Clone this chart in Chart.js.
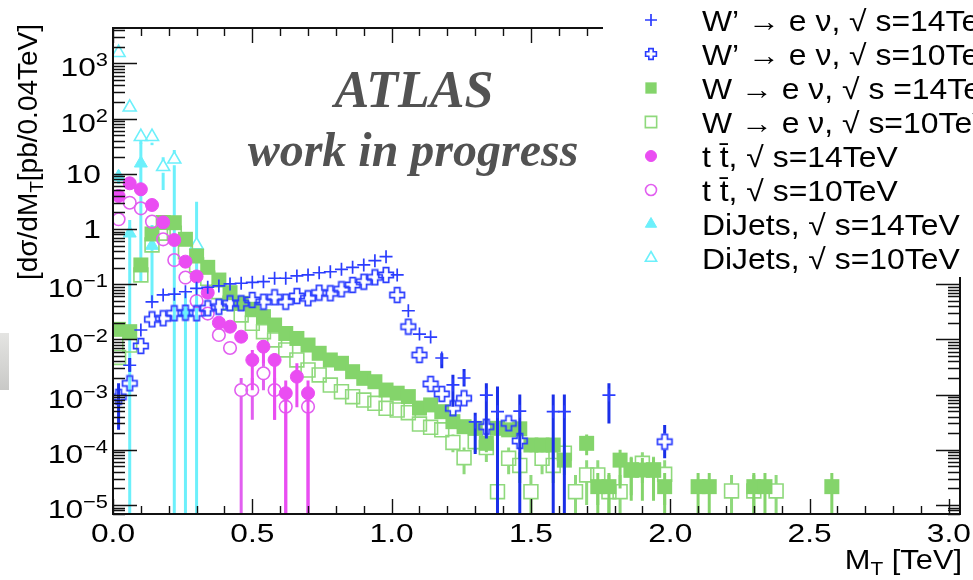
<!DOCTYPE html>
<html>
<head>
<meta charset="utf-8">
<script src="https://cdn.jsdelivr.net/npm/chart.js@4.4.0/dist/chart.umd.min.js"></script>
<style>
html, body { margin: 0; padding: 0; background: #fff; }
#wrap { width: 973px; height: 580px; position: relative; }
</style>
</head>
<body>
<div id="wrap"><canvas id="mtChart"></canvas></div>
<script>
// bin centres (0.04 TeV bins)
const binCenters = [0.02, 0.06, 0.10, 0.14, 0.18, 0.22, 0.26, 0.30, 0.34, 0.38, 0.42, 0.46, 0.50, 0.54, 0.58, 0.62,
  0.66, 0.70, 0.74, 0.78, 0.82, 0.86, 0.90, 0.94, 0.98, 1.02, 1.06, 1.10, 1.14, 1.18, 1.22, 1.26, 1.30, 1.34,
  1.38, 1.42, 1.46, 1.50, 1.54, 1.58, 1.62, 1.66, 1.70, 1.74, 1.78, 1.82, 1.86, 1.90, 1.94, 1.98, 2.02, 2.06,
  2.10, 2.14, 2.18, 2.22, 2.26, 2.30, 2.34, 2.38, 2.42, 2.46, 2.50, 2.54, 2.58];

// W' -> e nu, 14 TeV
const wp14 = [7.9e-4, 3.4e-3, 0.0148, 0.048, 0.064, 0.066, 0.073, 0.084, 0.088, 0.093, 0.101, 0.104, 0.108, 0.111,
  0.128, 0.128, 0.141, 0.147, 0.161, 0.168, 0.186, 0.202, 0.223, 0.267, 0.315, 0.147, 0.033, 0.0125, 0.011,
  0.0046, 0.0015, 0.0020, 3.2e-4, 9.8e-4, 4.9e-4, null, 5.0e-4, null, null, 4.9e-4, 4.9e-4, null, null, null, 9.8e-4];
const wp14Err = {0: [2.3e-4, 1.6e-3], 1: [2.6e-3, 4.6e-3], 29: [3.0e-3, 5.6e-3], 30: [6e-4, 2.3e-3],
  31: [1.4e-3, 2.9e-3], 32: [8.4e-5, 4.7e-4], 33: [1.6e-4, 1.6e-3], 34: [0, 1.4e-3], 36: [0, 1e-3],
  39: [0, 1e-3], 40: [0, 1e-3], 44: [3e-4, 1.6e-3]};

// W' -> e nu, 10 TeV
const wp10 = [9.1e-4, 1.6e-3, 7.6e-3, 0.0231, 0.0241, 0.0297, 0.0305, 0.0297, 0.0366, 0.0391, 0.0451, 0.0451,
  0.0518, 0.0482, 0.0579, 0.0482, 0.0611, 0.0555, 0.0702, 0.0684, 0.0809, 0.0968, 0.111, 0.133, 0.147,
  0.0637, 0.0170, 0.00521, 0.00156, 0.00103, 5.65e-4, 8.57e-4, null, 2.62e-4, null, 3.02e-4, 1.45e-4,
  null, null, null, null, null, null, null, null, null, null, null, null, 1.4e-4];
const wp10Err = {49: [7e-5, 2.8e-4]};

// W -> e nu, 14 TeV
const w14 = [0.0152, 0.0138, 0.223, 0.812, 1.31, 1.30, 0.651, 0.324, 0.202, 0.119, 0.0702, 0.0451, 0.0351,
  0.0258, 0.0182, 0.0128, 0.0104, 7.9e-3, 5.6e-3, 4.24e-3, 3.69e-3, 2.6e-3, 1.97e-3, 1.71e-3, 1.21e-3,
  1.06e-3, 9.2e-4, 5.7e-4, 6.5e-4, 4.9e-4, 3.23e-4, 2.62e-4, 2.45e-4, 1.31e-4, 2.45e-4, 2.3e-4, 2.4e-4,
  1.22e-4, 1.22e-4, 1.22e-4, 6.5e-5, null, 1.31e-4, 2.15e-5, 2.15e-5, 6.5e-5, 4.3e-5, 4.3e-5, 4.3e-5,
  2.15e-5, null, null, 2.15e-5, 2.15e-5, null, null, null, 2.15e-5, 2.15e-5, null, null, null, null, null, 2.15e-5];
const w14Err = {33: [9e-5, 1.8e-4], 37: [9e-5, 1.6e-4], 38: [9e-5, 1.6e-4], 39: [9e-5, 1.6e-4],
  40: [3.5e-5, 1e-4], 42: [8e-5, 1.9e-4], 43: [0, 3.8e-5], 44: [0, 3.8e-5], 45: [2e-5, 1e-4],
  46: [1.2e-5, 7.1e-5], 47: [1.2e-5, 7.1e-5], 48: [1.2e-5, 7.1e-5], 49: [0, 3.8e-5], 52: [0, 3.8e-5],
  53: [0, 3.8e-5], 57: [0, 3.8e-5], 58: [0, 3.8e-5], 64: [0, 3.8e-5]};

// W -> e nu, 10 TeV
const w10 = [4.7e-3, 7.9e-3, 0.147, 0.513, 0.84, 0.836, 0.388, 0.223, 0.128, 0.0731, 0.0451, 0.0277, 0.0196,
  0.0138, 9.76e-3, 6.43e-3, 4.24e-3, 2.79e-3, 2.27e-3, 1.49e-3, 1.13e-3, 9.17e-4, 7.98e-4, 6.95e-4, 5.65e-4,
  5.26e-4, 4.7e-4, 2.93e-4, 2.56e-4, 2.3e-4, 1.36e-4, 7.2e-5, 1.4e-4, 1.1e-4, 1.74e-5, 7e-5, 5.2e-5, 1.74e-5,
  7e-5, 5.2e-5, 8.7e-5, 1.74e-5, 3.5e-5, 3.5e-5, 1.74e-5, 1.74e-5, 4.3e-5, 5.7e-5, 4.3e-5, 3.6e-5,
  null, null, null, null, null, 1.8e-5, null, 1.8e-5, null, 1.8e-5];
const w10Err = {30: [9e-5, 1.9e-4], 31: [3.6e-5, 1.1e-4], 32: [9e-5, 2e-4], 33: [6e-5, 1.7e-4], 34: [0, 3.5e-5],
  35: [3.6e-5, 1.1e-4], 36: [2.5e-5, 9e-5], 37: [0, 3.5e-5], 38: [3.6e-5, 1.1e-4], 39: [2.5e-5, 9e-5],
  40: [4.5e-5, 1.3e-4], 41: [0, 3.5e-5], 42: [1e-5, 6.5e-5], 43: [1e-5, 6.5e-5], 44: [0, 3.5e-5],
  45: [0, 3.5e-5], 46: [1.5e-5, 7.5e-5], 47: [2.5e-5, 9e-5], 48: [1.5e-5, 7.5e-5], 49: [1e-5, 6.5e-5],
  55: [0, 3.5e-5], 57: [0, 3.5e-5], 59: [0, 3.5e-5]};

// t tbar
const tt14 = [3.96, 6.73, 5.24, 2.72, 1.32, 0.632, 0.256, 0.138, 0.0702, 0.0201, 0.0170, 0.0112, 4.24e-3,
  7.38e-3, 4.24e-3, 1.06e-3, 2.11e-3, 1.06e-3];
const tt14Err = {12: [1.2e-3, 6.4e-3], 13: [3.7e-3, 9.8e-3], 14: [3.5e-4, 5.6e-3], 15: [0, 1.8e-3],
  16: [5.9e-4, 3.7e-3], 17: [0, 1.8e-3]};
const tt10 = [1.50, 2.99, 2.37, 1.36, 0.651, 0.274, 0.132, 0.0496, 0.0294, 0.0120, 6.99e-3, 1.21e-3, 1.21e-3,
  2.43e-3, 1.21e-3, 6.04e-4, null, 6.04e-4];
const tt10Err = {11: [0, 2e-3], 12: [3.5e-4, 2e-3], 13: [1.2e-3, 4.2e-3], 14: [3.5e-4, 2e-3],
  15: [0, 1.1e-3], 17: [0, 1.1e-3]};

// DiJets
const dj14 = [8.86, 0.836, 15.5, 0.5, null, null, 0.03];
const dj14Err = {0: [6.6, 11.5], 1: [0, 1.46], 2: [0.11, 41], 3: [0.05, 1.18], 6: [0, 0.07]};
const dj10 = [1563, 160, 47, 47, 13.4, 18.3, null, 0.513];
const dj10Err = {2: [35, 55], 3: [33, 55], 4: [5.1, 20], 5: [0, 27], 7: [0, 3.1]};

const xTickValues = [0, 0.5, 1.0, 1.5, 2.0, 2.5, 3.0];
const xTickLabels = ['0.0', '0.5', '1.0', '1.5', '2.0', '2.5', '3.0'];
const yTickExp = [3, 2, 1, 0, -1, -2, -3, -4, -5];
const yTickLabels = [['10', '3'], ['10', '2'], ['10', ''], ['1', ''], ['10', '\u22121'], ['10', '\u22122'],
  ['10', '\u22123'], ['10', '\u22124'], ['10', '\u22125']];
const legendLabels = [
  'W\u2019 \u2192 e \u03bd, \u221a s=14TeV',
  'W\u2019 \u2192 e \u03bd, \u221a s=10TeV',
  'W \u2192 e \u03bd, \u221a s =14TeV',
  'W \u2192 e \u03bd, \u221a s=10TeV',
  't t\u0304, \u221a s=14TeV',
  't t\u0304, \u221a s=10TeV',
  'DiJets, \u221a s=14TeV',
  'DiJets, \u221a s=10TeV'
];

const SANS = '"Liberation Sans", Arial, Helvetica, "DejaVu Sans", sans-serif';
const SERIF = '"Liberation Serif", "Times New Roman", serif';

function pts(vals) {
  const out = [];
  vals.forEach((v, i) => { if (v != null) out.push({x: binCenters[i], y: v, bin: i}); });
  return out;
}

// hollow "plus" marker used by ROOT (style 28)
function openCross(size, arm, color, lw) {
  const c = document.createElement('canvas');
  c.width = size; c.height = size;
  const g = c.getContext('2d');
  const h = size / 2, s = h - lw, a = arm;
  g.translate(h, h);
  g.beginPath();
  g.moveTo(-a, -s); g.lineTo(a, -s); g.lineTo(a, -a); g.lineTo(s, -a); g.lineTo(s, a); g.lineTo(a, a);
  g.lineTo(a, s); g.lineTo(-a, s); g.lineTo(-a, a); g.lineTo(-s, a); g.lineTo(-s, -a); g.lineTo(-a, -a);
  g.closePath();
  g.strokeStyle = color; g.lineWidth = lw; g.lineJoin = 'miter';
  g.stroke();
  return c;
}

const blue = '#2b3dff', blueBar = '#1a2fe8';
const green = '#84d46b', greenOpen = '#8fd97c';
const magenta = '#ea4df2', magentaOpen = '#e25ff0';
const cyan = '#6cf0fb';

function stretchText(ctx, text, x, y, align, sx) {
  ctx.save();
  ctx.translate(x, y);
  ctx.scale(sx, 1);
  ctx.textAlign = align;
  ctx.fillText(text, 0, 0);
  ctx.restore();
  return ctx.measureText(text).width * sx;
}

const errorBars = {
  id: 'errorBars',
  beforeDatasetDraw(chart, args) {
    const ds = chart.data.datasets[args.index];
    if (!ds.errors) return;
    const {ctx, chartArea: a, scales: {x, y}} = chart;
    ctx.save();
    ctx.beginPath();
    ctx.rect(a.left, a.top, a.right - a.left, a.bottom - a.top);
    ctx.clip();
    ctx.strokeStyle = ds.errColor;
    ctx.lineWidth = 3;
    ds.data.forEach(p => {
      const e = ds.errors[p.bin];
      if (!e) return;
      const px = x.getPixelForValue(p.x), py = y.getPixelForValue(p.y);
      const top = y.getPixelForValue(e[1]);
      const bot = e[0] > 0 ? y.getPixelForValue(e[0]) : a.bottom;
      const gap = ds.errGap || 0;
      ctx.beginPath();
      if (top < py - gap) { ctx.moveTo(px, top); ctx.lineTo(px, py - gap); }
      if (bot > py + gap) { ctx.moveTo(px, py + gap); ctx.lineTo(px, bot); }
      ctx.stroke();
    });
    ctx.restore();
  }
};

const rootFrame = {
  id: 'rootFrame',
  beforeDraw(chart) {
    const ctx = chart.ctx;
    ctx.save();
    const gr = ctx.createLinearGradient(0, 333, 0, 390);
    gr.addColorStop(0, '#e4e4e2');
    gr.addColorStop(1, '#c9c9c7');
    ctx.fillStyle = gr;
    ctx.fillRect(0, 333, 9, 57);
    ctx.restore();
  },
  afterDraw(chart) {
    const {ctx, chartArea: a, scales: {x, y}} = chart;
    const legLeft = 603, legBottom = 277;
    ctx.save();

    // ATLAS label
    ctx.fillStyle = '#525252';
    ctx.textBaseline = 'alphabetic';
    ctx.font = 'italic bold 52px ' + SERIF;
    stretchText(ctx, 'ATLAS', 414, 107, 'center', 1);
    ctx.font = 'italic bold 48px ' + SERIF;
    stretchText(ctx, 'work in progress', 413, 166, 'center', 1);

    // legend box
    ctx.fillStyle = '#fff';
    ctx.fillRect(legLeft, 0, chart.width - legLeft, legBottom);

    // frame
    ctx.strokeStyle = '#111';
    ctx.lineWidth = 2;
    ctx.beginPath();
    ctx.moveTo(legLeft, a.top); ctx.lineTo(a.left, a.top); ctx.lineTo(a.left, a.bottom);
    ctx.lineTo(a.right, a.bottom); ctx.lineTo(a.right, legBottom);
    ctx.stroke();

    // y ticks (log), left and right
    ctx.lineWidth = 1.4;
    ctx.beginPath();
    for (let d = -6; d <= 3; d++) {
      for (let m = 1; m <= 9; m++) {
        const v = m * Math.pow(10, d);
        if (v < y.min || v > y.max) continue;
        const py = Math.round(y.getPixelForValue(v)) + 0.5;
        const len = m === 1 ? 24 : 12;
        ctx.moveTo(a.left, py); ctx.lineTo(a.left + len, py);
        if (py > legBottom) { ctx.moveTo(a.right, py); ctx.lineTo(a.right - len, py); }
      }
    }
    // x ticks, bottom and top
    for (let i = 0; i <= 30; i++) {
      const t = i / 10;
      const px = Math.round(x.getPixelForValue(t)) + 0.5;
      const len = i % 5 === 0 ? 15 : 8;
      ctx.moveTo(px, a.bottom); ctx.lineTo(px, a.bottom - len);
      if (px < legLeft) { ctx.moveTo(px, a.top); ctx.lineTo(px, a.top + len); }
    }
    ctx.stroke();

    // tick labels
    ctx.fillStyle = '#000';
    ctx.font = '26px ' + SANS;
    xTickValues.forEach((t, i) => {
      stretchText(ctx, xTickLabels[i], x.getPixelForValue(t), a.bottom + 28, 'center', 1.22);
    });
    yTickExp.forEach((e, i) => {
      const py = y.getPixelForValue(Math.pow(10, e));
      const [base, sup] = yTickLabels[i];
      if (sup) {
        ctx.font = '19px ' + SANS;
        const sw = ctx.measureText(sup).width * 1.15;
        stretchText(ctx, sup, 108, py + 3, 'right', 1.15);
        ctx.font = '26px ' + SANS;
        stretchText(ctx, base, 108 - sw, py + 13, 'right', 1.22);
      } else {
        ctx.font = '26px ' + SANS;
        stretchText(ctx, base, 101, py + 9, 'right', 1.22);
      }
    });

    // x title, right aligned
    ctx.font = '28px ' + SANS;
    const rest = ' [TeV]';
    const wRest = ctx.measureText(rest).width * 1.1;
    stretchText(ctx, rest, 962, 569, 'right', 1.1);
    ctx.font = '19px ' + SANS;
    const wT = ctx.measureText('T').width * 1.1;
    stretchText(ctx, 'T', 962 - wRest, 575, 'right', 1.1);
    ctx.font = '28px ' + SANS;
    stretchText(ctx, 'M', 962 - wRest - wT, 569, 'right', 1.1);

    // y title, rotated
    ctx.save();
    ctx.translate(37, 152);
    ctx.rotate(-Math.PI / 2);
    ctx.textAlign = 'left';
    const p1 = '[d\u03c3/dM', p2 = 'T', p3 = '[pb/0.04TeV]';
    ctx.font = '28px ' + SANS;
    const w1 = ctx.measureText(p1).width, w3 = ctx.measureText(p3).width;
    ctx.font = '19px ' + SANS;
    const w2 = ctx.measureText(p2).width;
    let cx = -(w1 + w2 + w3) / 2;
    ctx.font = '28px ' + SANS;
    ctx.fillText(p1, cx, 0); cx += w1;
    ctx.font = '19px ' + SANS;
    ctx.fillText(p2, cx, 6); cx += w2;
    ctx.font = '28px ' + SANS;
    ctx.fillText(p3, cx, 0);
    ctx.restore();

    // legend entries
    chart.data.datasets.forEach((ds, i) => {
      const sy = 20 + 34 * i;
      ctx.save();
      ctx.fillStyle = ds.backgroundColor;
      ctx.strokeStyle = ds.borderColor;
      ctx.lineWidth = ds.borderWidth;
      Chart.helpers.drawPoint(ctx, {
        pointStyle: ds.legendStyle || ds.pointStyle,
        radius: ds.legendRadius,
        borderWidth: ds.borderWidth,
        rotation: 0
      }, 651, sy);
      ctx.restore();
      ctx.fillStyle = '#000';
      ctx.font = '29px ' + SANS;
      stretchText(ctx, legendLabels[i], 702, sy + 11, 'left', 1.1);
    });
    ctx.restore();
  }
};

const datasets = [
  {label: legendLabels[0], data: pts(wp14), errors: wp14Err, errColor: blueBar, order: 0,
    pointStyle: 'cross', pointRadius: 6.5, legendRadius: 6, borderColor: blue, backgroundColor: blue, borderWidth: 1.7},
  {label: legendLabels[1], data: pts(wp10), errors: wp10Err, errColor: blueBar, errGap: 8, order: 1,
    pointStyle: openCross(18, 2.7, blue, 1.7), legendStyle: openCross(14, 2.2, blue, 1.6), pointRadius: 8,
    legendRadius: 6, borderColor: blue, backgroundColor: 'rgba(0,0,0,0)', borderWidth: 1.6},
  {label: legendLabels[2], data: pts(w14), errors: w14Err, errColor: green, order: 4,
    pointStyle: 'rect', pointRadius: 10.6, legendRadius: 8, borderColor: green, backgroundColor: green, borderWidth: 0},
  {label: legendLabels[3], data: pts(w10), errors: w10Err, errColor: greenOpen, errGap: 7, order: 5,
    pointStyle: 'rect', pointRadius: 9.8, legendRadius: 8, borderColor: greenOpen, backgroundColor: 'rgba(0,0,0,0)', borderWidth: 1.6},
  {label: legendLabels[4], data: pts(tt14), errors: tt14Err, errColor: magenta, order: 2,
    pointStyle: 'circle', pointRadius: 6.5, legendRadius: 5.5, borderColor: magenta, backgroundColor: magenta, borderWidth: 1},
  {label: legendLabels[5], data: pts(tt10), errors: tt10Err, errColor: magentaOpen, errGap: 6.5, order: 3,
    pointStyle: 'circle', pointRadius: 6.3, legendRadius: 5.5, borderColor: magentaOpen, backgroundColor: 'rgba(0,0,0,0)', borderWidth: 1.6},
  {label: legendLabels[6], data: pts(dj14), errors: dj14Err, errColor: cyan, order: 6,
    pointStyle: 'triangle', pointRadius: 7.5, legendRadius: 6.5, borderColor: cyan, backgroundColor: cyan, borderWidth: 1},
  {label: legendLabels[7], data: pts(dj10), errors: dj10Err, errColor: cyan, errGap: 6, order: 7,
    pointStyle: 'triangle', pointRadius: 7.5, legendRadius: 6.5, borderColor: cyan, backgroundColor: 'rgba(0,0,0,0)', borderWidth: 1.6}
];
datasets.forEach(ds => { ds.showLine = false; ds.pointHoverRadius = ds.pointRadius; });

const mtChart = new Chart(document.getElementById('mtChart'), {
  type: 'scatter',
  data: {datasets: datasets},
  plugins: [errorBars, rootFrame],
  options: {
    responsive: true,
    maintainAspectRatio: false,
    animation: false,
    events: [],
    layout: {padding: {left: 113, top: 28, right: 13, bottom: 66}},
    plugins: {legend: {display: false}, tooltip: {enabled: false}, title: {display: false}},
    scales: {
      x: {type: 'linear', display: false, min: 0, max: 3.04, bounds: 'data'},
      y: {type: 'logarithmic', display: false, min: 6.87e-6, max: 4375, bounds: 'data'}
    }
  }
});
</script>
</body>
</html>
